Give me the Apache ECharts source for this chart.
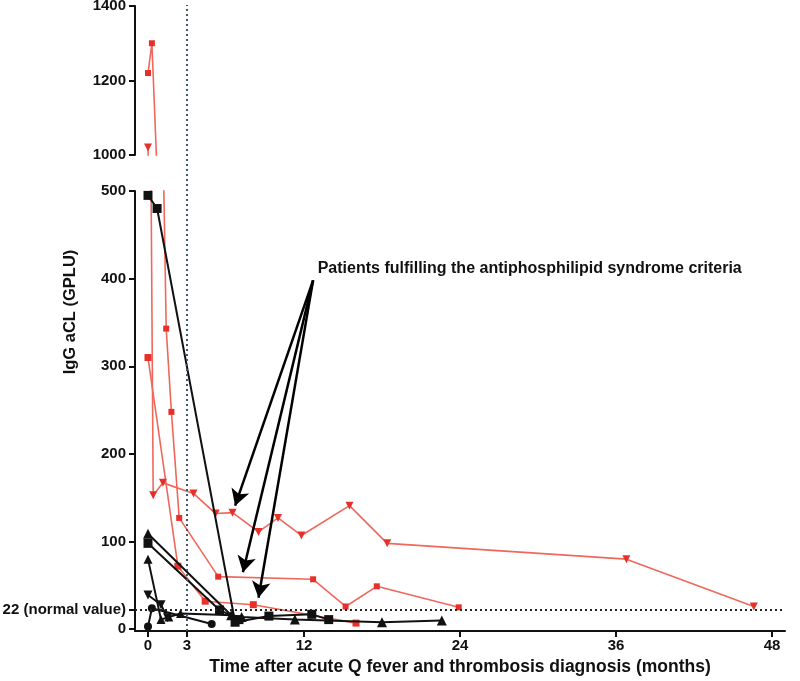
<!DOCTYPE html>
<html><head><meta charset="utf-8">
<script src="https://cdn.jsdelivr.net/npm/echarts@6/dist/echarts.min.js"></script>
<style>html,body{margin:0;padding:0;background:#fff}#c{width:800px;height:681px}</style>
</head><body><div id="c"></div>
<script>
// ---- data ----
const xTicks = [0, 3, 12, 24, 36, 48];
const yTicksLow = [0, 22, 100, 200, 300, 400, 500];
const yTicksHigh = [1000, 1200, 1400];
const normalValue = 22;
const cutoffMonth = 3;
const xTitle = 'Time after acute Q fever and thrombosis diagnosis (months)';
const yTitle = 'IgG aCL (GPLU)';
// red patients (fulfilling antiphospholipid syndrome criteria)
const red1 = [[0,1020],[0.4,153],[1.15,167],[3.5,155],[5.2,132],[6.5,133],[8.5,111],[10,127],[11.8,107],[15.5,141],[18.4,98],[36.8,80],[46.6,26]];
const red2 = [[0,1220],[0.3,1300],[1.4,343],[1.8,248],[2.4,127],[5.4,60],[12.7,57],[15.2,26],[17.6,49],[23.9,25]];
const red3 = [[0,310],[2.3,72],[4.4,32],[8.1,28],[16,7]];
// black patients
const blackSq1 = [[0,495],[0.7,480],[6.7,8],[9.3,15],[12.6,17],[13.9,11]];
const blackSq2 = [[0,98],[5.5,22],[7.0,11]];
const blackTri1 = [[0,109],[6.4,16],[7.2,14],[11.3,11],[18,8],[22.6,10]];
const blackTri2 = [[0,80],[1.0,11],[1.6,14],[2.5,18],[6.5,16]];
const blackInv = [[0,39],[1.0,28],[1.5,13]];
const blackCirc = [[0,3],[0.3,24],[4.9,6]];
// annotation
const annotationText = 'Patients fulfilling the antiphosphilipid syndrome criteria';
const annotationAt = [12.9, 412];
const arrowFrom = [12.7, 398];
const arrowTargets = [[6.7,141],[7.3,65],[8.5,36]];

// ---- chart ----
const FONT = '"Liberation Sans", Arial, sans-serif';
const RED = '#e8302a', RED_LINE = '#f0675c', BLACK = '#111';
const GL = 135, GW = 650;

function mk(data, grid, color, lineColor, symbol, size, rot, lw, extra) {
  return Object.assign({
    type: 'line', xAxisIndex: grid, yAxisIndex: grid, data: data,
    symbol: symbol, symbolSize: size, symbolRotate: rot || 0, clip: true,
    showSymbol: true, animation: false,
    lineStyle: { color: lineColor, width: lw },
    itemStyle: { color: color },
    emphasis: { disabled: true }, z: 3
  }, extra || {});
}

const series = [];
series.push(mk(red1, 0, RED, RED_LINE, 'triangle', 8, 180, 1.6));
series.push(mk(red2, 0, RED, RED_LINE, 'rect', 6, 0, 1.6));
series.push(mk(red1, 1, RED, RED_LINE, 'triangle', 8, 180, 1.6));
series.push(mk(red2, 1, RED, RED_LINE, 'rect', 6, 0, 1.6));
series.push(mk(red3, 1, RED, RED_LINE, 'rect', 7, 0, 1.6));
series.push(mk(blackSq1, 1, BLACK, BLACK, 'rect', 9, 0, 2, {z: 4}));
series.push(mk(blackSq2, 1, BLACK, BLACK, 'rect', 9, 0, 2, {z: 4}));
series.push(mk(blackTri1, 1, BLACK, BLACK, 'triangle', 10, 0, 2, {z: 4}));
series.push(mk(blackTri2, 1, BLACK, BLACK, 'triangle', 9, 0, 2, {z: 4}));
series.push(mk(blackInv, 1, BLACK, BLACK, 'triangle', 9, 180, 2, {z: 4}));
series.push(mk(blackCirc, 1, BLACK, BLACK, 'circle', 8, 0, 2, {z: 4}));
series.push({
  type: 'line', xAxisIndex: 1, yAxisIndex: 1, data: [], animation: false, z: 5,
  markLine: {
    silent: true, animation: false, symbol: ['none', 'none'],
    label: { show: false },
    lineStyle: { color: '#222', width: 2, type: [2, 3] },
    data: [{ yAxis: normalValue }]
  }
});
series.push({
  type: 'line', xAxisIndex: 1, yAxisIndex: 1, data: [], animation: false, z: 6,
  markLine: {
    silent: true, animation: false, symbol: ['none', 'arrow'], symbolSize: [14, 16],
    label: { show: false },
    lineStyle: { color: '#000', width: 2.5, type: 'solid' },
    data: arrowTargets.map(t => [{ coord: arrowFrom }, { coord: t }])
  },
  markPoint: {
    silent: true, animation: false, symbol: 'circle', symbolSize: 0,
    label: { show: true, position: 'right', distance: 2, formatter: annotationText,
      color: '#111', fontFamily: FONT, fontWeight: 'bold', fontSize: 16 },
    data: [{ coord: annotationAt }]
  }
});
series.push({
  type: 'line', xAxisIndex: 2, yAxisIndex: 2, data: [], animation: false, z: 1,
  markLine: {
    silent: true, animation: false, symbol: ['none', 'none'],
    label: { show: false },
    lineStyle: { color: '#3f5868', width: 2, type: [2, 3] },
    data: [{ xAxis: cutoffMonth }]
  }
});

const labelStyle = { color: '#111', fontFamily: FONT, fontWeight: 'bold', fontSize: 15 };
const axisLine = { show: true, lineStyle: { color: '#111', width: 2 } };

const option = {
  backgroundColor: '#fff',
  animation: false,
  grid: [
    { left: GL, width: GW, top: 6, height: 149, outerBoundsMode: 'none', containLabel: false },
    { left: GL, width: GW, top: 191, height: 440, outerBoundsMode: 'none', containLabel: false },
    { left: GL, width: GW, top: 5, height: 626, outerBoundsMode: 'none', containLabel: false }
  ],
  xAxis: [
    { gridIndex: 0, type: 'value', min: -1, max: 49, show: false },
    { gridIndex: 1, type: 'value', min: -1, max: 49,
      axisLine: Object.assign({}, axisLine, { onZero: false }),
      axisTick: { show: true, length: 6, lineStyle: { color: '#111', width: 2 }, customValues: xTicks },
      axisLabel: Object.assign({ customValues: xTicks, margin: 7, formatter: v => String(v) }, labelStyle),
      splitLine: { show: false },
      name: xTitle, nameLocation: 'middle', nameGap: 27,
      nameTextStyle: { color: '#111', fontFamily: FONT, fontWeight: 'bold', fontSize: 17.5 } },
    { gridIndex: 2, type: 'value', min: -1, max: 49, show: false }
  ],
  yAxis: [
    { gridIndex: 0, type: 'value', min: 1000, max: 1400,
      axisLine: Object.assign({}, axisLine, { onZero: false }),
      axisTick: { show: true, length: 6, lineStyle: { color: '#111', width: 2 }, customValues: yTicksHigh },
      axisLabel: Object.assign({ customValues: yTicksHigh, margin: 9, formatter: v => String(v) }, labelStyle),
      splitLine: { show: false } },
    { gridIndex: 1, type: 'value', min: -2, max: 500,
      axisLine: Object.assign({}, axisLine, { onZero: false }),
      axisTick: { show: true, length: 6, lineStyle: { color: '#111', width: 2 }, customValues: yTicksLow },
      axisLabel: Object.assign({ customValues: yTicksLow, margin: 9,
        formatter: v => v === normalValue ? normalValue + ' (normal value)' : String(v) }, labelStyle),
      splitLine: { show: false } },
    { gridIndex: 2, type: 'value', min: 0, max: 1,
      axisLine: { show: false }, axisTick: { show: false }, axisLabel: { show: false }, splitLine: { show: false },
      name: yTitle, nameLocation: 'middle', nameGap: 56,
      nameTextStyle: { color: '#111', fontFamily: FONT, fontWeight: 'bold', fontSize: 16.5, padding: [0, 0, 0, 12] } }
  ],
  series: series
};

const chart = echarts.init(document.getElementById('c'), null, { renderer: 'canvas' });
chart.setOption(option);
</script>
</body></html>
